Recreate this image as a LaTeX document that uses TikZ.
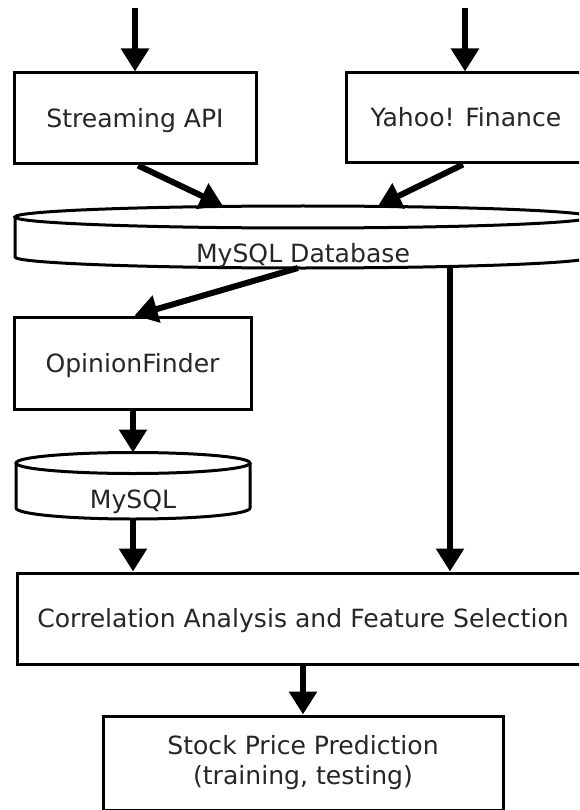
\documentclass[tikz,border=0pt]{standalone}
\usepackage{fontspec}
\setmainfont{DejaVu Sans}
\usetikzlibrary{arrows.meta}
\begin{document}
\begin{tikzpicture}[x=1pt,y=-1pt,
  box/.style={draw, line width=3pt, rectangle, inner sep=0pt, text=black!85,
    font=\fontsize{25.1}{30}\selectfont},
  onebox/.style={box, text height=18pt, text depth=0pt},
  lbl/.style={anchor=base, inner sep=0pt, text=black!85, font=\fontsize{25.1}{30}\selectfont},
  flow/.style={line width=6pt, -{Triangle[length=23pt,width=27pt]}},
  cyl/.style={line width=3pt}]
\useasboundingbox (0,0) rectangle (579,810);
\clip (0,0) rectangle (579,810);

% boxes
\node[onebox, minimum width=242pt, minimum height=91pt] (stream) at (135,118.5) {Streaming API};
\node[onebox, minimum width=240pt, minimum height=90pt] (yahoo) at (466,118) {Yahoo! Finance};
\node[onebox, minimum width=237pt, minimum height=92pt] (opinion) at (132.5,363) {OpinionFinder};
\node[onebox, minimum width=572pt, minimum height=91pt] (corr) at (303,618.5) {Correlation Analysis and Feature Selection};
\node[box, minimum width=400pt, minimum height=94pt, align=center] (stock) at (303,763) {Stock Price Prediction\\(training, testing)};

% big database cylinder
\draw[cyl] (15,217) -- (15,257) arc[start angle=180, end angle=0, x radius=288, y radius=11] -- (591,217);
\draw[cyl] (303,217) ellipse[x radius=288, y radius=11];
\node[lbl] (db) at (303,262) {MySQL Database};

% small database cylinder
\draw[cyl] (16,463) -- (16,508) arc[start angle=180, end angle=0, x radius=117, y radius=11] -- (250,463);
\draw[cyl] (133,463) ellipse[x radius=117, y radius=10.5];
\node[lbl] (sql) at (133,508) {MySQL};

% connector end points
\coordinate (in1) at (135,8);
\coordinate (in2) at (465,8);
\coordinate (dbA) at (223,206);
\coordinate (dbB) at (378,206);
\coordinate (dbOut) at (298,268);
\coordinate (dbR) at (450,267);
\coordinate (sqlT) at (133,452.5);
\coordinate (sqlB) at (133,519);

% connectors
\draw[flow] (in1) -- (stream.north);
\draw[flow] (in2) -- ([xshift=-1pt]yahoo.north);
\draw[flow] ([xshift=3pt]stream.south) -- (dbA);
\draw[flow] ([xshift=-3pt]yahoo.south) -- (dbB);
\draw[flow] (dbOut) -- ([xshift=2pt]opinion.north);
\draw[flow] (dbR) -- (dbR |- corr.north);
\draw[flow] ([xshift=0.5pt]opinion.south) -- (sqlT);
\draw[flow] (sqlB) -- (sqlB |- corr.north);
\draw[flow] (corr.south) -- (stock.north);
\end{tikzpicture}
\end{document}
